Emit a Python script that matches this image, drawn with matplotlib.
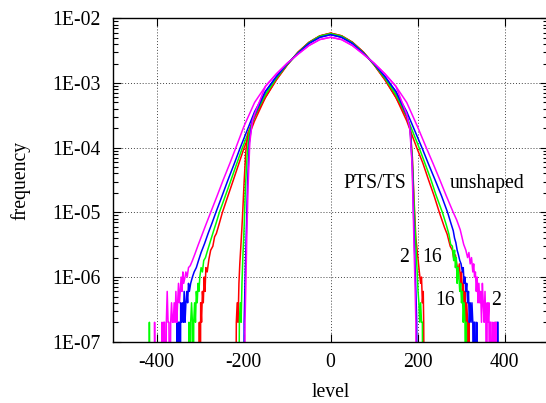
"""Level histograms, unshaped vs. PTS/TS shaped, log frequency axis."""

import matplotlib

matplotlib.use("Agg")
import matplotlib.pyplot as plt
import numpy as np
from matplotlib.ticker import FixedLocator, LogLocator, NullFormatter

plt.rcParams["font.family"] = ["Liberation Serif", "DejaVu Serif"]
plt.rcParams["font.size"] = 14.2

# shared body of the histograms (level -> frequency), one per colour
BODY_LEVELS = [-150, -125, -100, -75, -50, -25, 0, 25, 50, 75, 100, 125, 150]
BODY_RED = [6.0e-4, 1.12e-3, 1.9e-3, 3.0e-3, 4.25e-3, 5.35e-3, 5.9e-3,
            5.37e-3, 4.27e-3, 3.02e-3, 1.91e-3, 1.12e-3, 6.0e-4]
BODY_GREEN = [6.6e-4, 1.18e-3, 1.93e-3, 2.95e-3, 4.2e-3, 5.3e-3, 5.8e-3,
              5.3e-3, 4.2e-3, 2.95e-3, 1.93e-3, 1.18e-3, 6.6e-4]
BODY_BLUE = [7.4e-4, 1.25e-3, 1.97e-3, 2.9e-3, 4.1e-3, 5.1e-3, 5.6e-3,
             5.1e-3, 4.1e-3, 2.9e-3, 1.97e-3, 1.25e-3, 7.4e-4]
BODY_MAGENTA = [8.9e-4, 1.38e-3, 2.02e-3, 2.8e-3, 3.8e-3, 4.7e-3, 5.1e-3,
                4.7e-3, 3.8e-3, 2.8e-3, 2.02e-3, 1.38e-3, 8.9e-4]

# unshaped tails, (level, frequency); 0 means an empty bin
UNSHAPED_RED_LEFT = [
    (-304, 0), (-302, 2e-7), (-300, 0), (-299, 4e-7), (-297, 2e-7),
    (-295, 6e-7), (-293, 4e-7), (-291, 1.0e-6), (-289, 6e-7), (-287, 1.4e-6),
    (-284, 1.2e-6), (-280, 1.9e-6), (-276, 2.6e-6), (-271, 3.0e-6),
    (-267, 4.2e-6), (-263, 4.7e-6), (-256, 6.8e-6), (-249, 1.0e-5),
    (-238, 1.66e-5), (-225, 3.0e-5), (-210, 6.0e-5), (-199, 1.0e-4),
    (-175, 2.6e-4),
]
UNSHAPED_RED_RIGHT = [
    (175, 2.6e-4), (198, 1.0e-4), (212, 5.8e-5), (225, 3.2e-5), (238, 1.8e-5),
    (250, 1.0e-5), (262, 5.8e-6), (268, 4.6e-6), (275, 3.0e-6), (280, 2.6e-6),
    (284, 1.8e-6), (287, 2.2e-6), (290, 1.6e-6), (293, 1.2e-6), (296, 1.6e-6),
    (299, 8e-7), (301, 1.2e-6), (303, 6e-7), (305, 8e-7), (307, 4e-7),
    (309, 6e-7), (311, 2e-7), (313, 4e-7), (315, 2e-7), (317, 0), (318, 2e-7),
    (319, 0),
]
UNSHAPED_GREEN_LEFT = [
    (-418, 0), (-417, 2e-7), (-415, 0), (-328, 0), (-326, 2e-7), (-324, 0),
    (-322, 2e-7), (-320, 4e-7), (-318, 2e-7), (-316, 0), (-315, 2e-7),
    (-313, 4e-7), (-311, 2e-7), (-309, 6e-7), (-307, 4e-7), (-305, 8e-7),
    (-303, 6e-7), (-301, 1.0e-6), (-298, 1.4e-6), (-295, 1.2e-6),
    (-292, 1.8e-6), (-288, 2.0e-6), (-283, 2.6e-6), (-276, 3.7e-6),
    (-270, 5.0e-6), (-263, 7.0e-6), (-256, 1.0e-5), (-245, 1.6e-5),
    (-232, 2.8e-5), (-218, 5.2e-5), (-203, 1.0e-4), (-175, 3.0e-4),
]
UNSHAPED_GREEN_RIGHT = [
    (175, 3.0e-4), (200, 1.15e-4), (215, 6.2e-5), (230, 3.3e-5), (243, 1.8e-5),
    (257, 1.0e-5), (266, 6.4e-6), (272, 4.6e-6), (276, 3.2e-6), (280, 3.0e-6),
    (283, 1.8e-6), (285, 2.6e-6), (287, 1.4e-6), (289, 2.0e-6), (291, 8e-7),
    (293, 1.4e-6), (295, 1.0e-6), (297, 6e-7), (299, 8e-7), (301, 4e-7),
    (303, 6e-7), (305, 2e-7), (307, 4e-7), (309, 2e-7), (311, 0), (312, 2e-7),
    (314, 0), (379, 0), (380, 2e-7), (381, 0),
]
UNSHAPED_BLUE_LEFT = [
    (-355, 0), (-353, 2e-7), (-351, 0), (-350, 2e-7), (-348, 2e-7), (-346, 0),
    (-345, 4e-7), (-343, 2e-7), (-341, 4e-7), (-339, 2e-7), (-337, 6e-7),
    (-335, 2e-7), (-333, 4e-7), (-331, 6e-7), (-329, 4e-7), (-327, 8e-7),
    (-325, 6e-7), (-322, 8e-7), (-318, 1.0e-6), (-314, 1.2e-6),
    (-309, 1.4e-6), (-304, 1.8e-6), (-298, 2.4e-6), (-290, 3.3e-6),
    (-282, 4.7e-6), (-273, 6.8e-6), (-264, 1.0e-5), (-250, 1.78e-5),
    (-236, 3.2e-5), (-222, 5.6e-5), (-208, 1.0e-4), (-175, 3.6e-4),
]
UNSHAPED_BLUE_RIGHT = [
    (175, 3.6e-4), (210, 1.0e-4), (225, 5.6e-5), (240, 3.2e-5), (255, 1.8e-5),
    (269, 1.0e-5), (276, 7.0e-6), (282, 5.2e-6), (285, 4.0e-6), (288, 3.4e-6),
    (291, 2.6e-6), (294, 2.2e-6), (297, 1.8e-6), (300, 1.6e-6), (303, 1.2e-6),
    (305, 1.4e-6), (307, 8e-7), (309, 1.0e-6), (311, 6e-7), (313, 8e-7),
    (315, 4e-7), (317, 6e-7), (319, 2e-7), (321, 4e-7), (323, 2e-7),
    (325, 4e-7), (327, 2e-7), (329, 0), (330, 2e-7), (332, 2e-7), (334, 0),
    (336, 2e-7), (338, 0), (382, 0), (383, 2e-7), (385, 2e-7), (386, 0),
]
UNSHAPED_MAGENTA_LEFT = [
    (-406, 0), (-405, 2e-7), (-403, 0), (-390, 0), (-388, 2e-7), (-386, 0),
    (-384, 2e-7), (-382, 2e-7), (-380, 0), (-378, 2e-7), (-376, 6e-7),
    (-374, 2e-7), (-372, 2e-7), (-370, 0), (-368, 2e-7), (-366, 4e-7),
    (-364, 2e-7), (-362, 2e-7), (-360, 4e-7), (-358, 2e-7), (-356, 6e-7),
    (-354, 2e-7), (-352, 4e-7), (-350, 8e-7), (-348, 4e-7), (-346, 6e-7),
    (-344, 1.0e-6), (-342, 6e-7), (-340, 1.2e-6), (-338, 8e-7),
    (-335, 1.0e-6), (-333, 1.2e-6), (-330, 1.0e-6), (-327, 1.4e-6),
    (-323, 1.5e-6), (-318, 1.8e-6), (-312, 2.3e-6), (-305, 3.1e-6),
    (-297, 4.3e-6), (-288, 6.2e-6), (-276, 1.0e-5), (-262, 1.74e-5),
    (-247, 3.2e-5), (-232, 5.7e-5), (-218, 1.0e-4), (-200, 2.1e-4),
    (-175, 5.0e-4),
]
UNSHAPED_MAGENTA_RIGHT = [
    (175, 5.0e-4), (200, 2.1e-4), (220, 1.0e-4), (236, 5.6e-5), (251, 3.2e-5),
    (266, 1.8e-5), (282, 1.0e-5), (290, 7.6e-6), (298, 5.4e-6), (306, 3.2e-6),
    (311, 2.6e-6), (315, 2.0e-6), (318, 2.4e-6), (321, 1.6e-6), (324, 2.0e-6),
    (327, 1.2e-6), (329, 1.6e-6), (331, 1.0e-6), (333, 1.2e-6), (335, 6e-7),
    (337, 1.0e-6), (339, 4e-7), (341, 8e-7), (343, 4e-7), (345, 6e-7),
    (347, 2e-7), (349, 8e-7), (351, 4e-7), (353, 2e-7), (355, 6e-7),
    (357, 2e-7), (359, 0), (360, 4e-7), (362, 2e-7), (364, 4e-7), (366, 0),
    (367, 2e-7), (369, 2e-7), (371, 0), (373, 2e-7), (375, 0), (377, 2e-7),
    (379, 0), (380, 2e-7), (381, 0),
]

# PTS/TS shaped tails
SHAPED_RED_LEFT = [
    (-219, 0), (-217, 2e-7), (-215, 4e-7), (-213, 2e-7), (-211, 8e-7),
    (-209, 1.6e-6), (-206, 3.5e-6), (-203, 8e-6), (-199, 3e-5), (-195, 9e-5),
    (-190, 1.7e-4), (-175, 3.0e-4),
]
SHAPED_RED_RIGHT = [
    (175, 3.0e-4), (183, 2.0e-4), (188, 7e-5), (192, 1.5e-5), (196, 4e-6),
    (200, 2.2e-6), (204, 1.2e-6), (207, 8e-7), (209, 1.0e-6), (211, 4e-7),
    (213, 6e-7), (214, 2e-7), (216, 0),
]
SHAPED_GREEN_LEFT = [
    (-212, 0), (-210, 2e-7), (-208, 4e-7), (-206, 2e-7), (-204, 8e-7),
    (-202, 2e-6), (-199, 6e-6), (-196, 2.5e-5), (-192, 8e-5), (-187, 1.8e-4),
    (-175, 3.1e-4),
]
SHAPED_GREEN_RIGHT = [
    (175, 3.1e-4), (183, 2.0e-4), (188, 6e-5), (192, 1.2e-5), (196, 3e-6),
    (199, 1.2e-6), (201, 6e-7), (203, 4e-7), (205, 2e-7), (207, 4e-7),
    (209, 2e-7), (211, 2e-7), (212, 0),
]
SHAPED_BLUE_LEFT = [
    (-200, 0), (-199, 2e-7), (-197, 8e-7), (-194, 5e-6), (-191, 3e-5),
    (-187, 1.2e-4), (-181, 2.5e-4), (-175, 3.2e-4),
]
SHAPED_BLUE_RIGHT = [
    (175, 3.2e-4), (183, 1.9e-4), (188, 5e-5), (191, 8e-6), (194, 1.6e-6),
    (196, 6e-7), (198, 2e-7), (199, 0),
]
SHAPED_MAGENTA_LEFT = [
    (-198, 0), (-197, 2e-7), (-195, 8e-7), (-193, 4e-6), (-190, 2.5e-5),
    (-186, 1.2e-4), (-180, 2.6e-4), (-175, 3.3e-4),
]
SHAPED_MAGENTA_RIGHT = [
    (175, 3.3e-4), (182, 2.0e-4), (187, 6e-5), (190, 1.0e-5), (192, 2.5e-6),
    (194, 8e-7), (195, 4e-7), (196, 2e-7), (197, 0),
]

Y_TICKS = [1e-7, 1e-6, 1e-5, 1e-4, 1e-3, 1e-2]
Y_TICK_LABELS = ["1E-07", "1E-06", "1E-05", "1E-04", "1E-03", "1E-02"]
X_TICKS = [-400, -200, 0, 200, 400]

SERIES = [
    ("#ff0000", BODY_RED, UNSHAPED_RED_LEFT, UNSHAPED_RED_RIGHT),
    ("#00ff00", BODY_GREEN, UNSHAPED_GREEN_LEFT, UNSHAPED_GREEN_RIGHT),
    ("#0000ff", BODY_BLUE, UNSHAPED_BLUE_LEFT, UNSHAPED_BLUE_RIGHT),
    ("#ff00ff", BODY_MAGENTA, UNSHAPED_MAGENTA_LEFT, UNSHAPED_MAGENTA_RIGHT),
    ("#ff0000", BODY_RED, SHAPED_RED_LEFT, SHAPED_RED_RIGHT),
    ("#00ff00", BODY_GREEN, SHAPED_GREEN_LEFT, SHAPED_GREEN_RIGHT),
    ("#0000ff", BODY_BLUE, SHAPED_BLUE_LEFT, SHAPED_BLUE_RIGHT),
    ("#ff00ff", BODY_MAGENTA, SHAPED_MAGENTA_LEFT, SHAPED_MAGENTA_RIGHT),
]


def curve(body, left, right):
    levels = [p[0] for p in left] + BODY_LEVELS + [p[0] for p in right]
    freqs = [p[1] for p in left] + body + [p[1] for p in right]
    freqs = np.asarray(freqs, float)
    # empty bins fall below the axis, like the zero bins in the original
    return np.asarray(levels, float), np.where(freqs > 0, freqs, 1e-9)


fig = plt.figure(figsize=(5.46, 4.03), dpi=100)
ax = fig.add_axes([0.2075, 0.152, 0.7962, 0.8025])

for color, body, left, right in SERIES:
    x, y = curve(body, left, right)
    ax.plot(x, y, color=color, linewidth=1.1)

ax.set_yscale("log")
ax.set_xlim(-500, 500)
ax.set_ylim(1e-7, 1e-2)
ax.yaxis.set_major_locator(FixedLocator(Y_TICKS))
ax.set_yticklabels(Y_TICK_LABELS)
ax.yaxis.set_minor_locator(LogLocator(base=10, subs=np.arange(2, 10)))
ax.yaxis.set_minor_formatter(NullFormatter())
ax.set_xticks(X_TICKS, [str(v) for v in X_TICKS])

ax.grid(True, which="major", color="#444444", linestyle=(0, (1, 2)), linewidth=0.7)
ax.tick_params(which="both", direction="in", top=True, right=True, width=0.8)
ax.tick_params(which="major", length=6)
ax.tick_params(which="minor", length=3.5)
ax.tick_params(axis="y", pad=9)
ax.tick_params(axis="x", pad=8)
for spine in ax.spines.values():
    spine.set_linewidth(1.0)

ax.set_xlabel("level", labelpad=8)
ax.set_ylabel("frequency", labelpad=16)

ax.text(101, 2.84e-5, "PTS/TS", ha="center", va="center")
ax.text(359, 2.84e-5, "unshaped", ha="center", va="center")
ax.text(170, 2.0e-6, "2", ha="center", va="center")
ax.text(233, 2.0e-6, "16", ha="center", va="center")
ax.text(264, 4.4e-7, "16", ha="center", va="center")
ax.text(381, 4.4e-7, "2", ha="center", va="center")

fig.savefig("out.png", dpi=100, facecolor="white")
